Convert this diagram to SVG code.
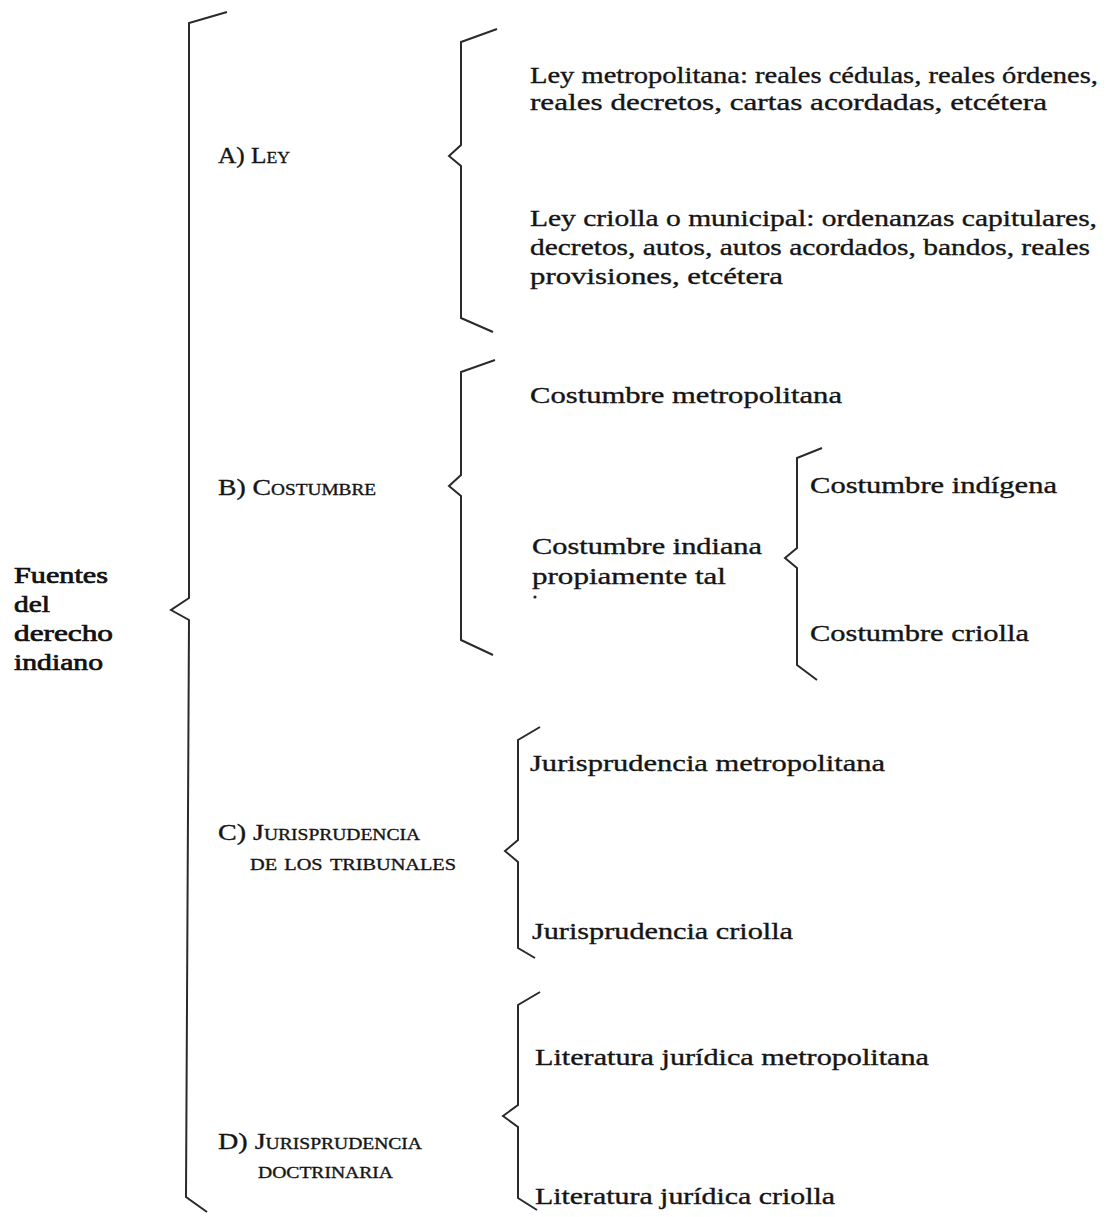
<svg xmlns="http://www.w3.org/2000/svg" width="1110" height="1217" viewBox="0 0 1110 1217">
<style>
.t{font-family:"Liberation Serif","DejaVu Serif",serif;font-size:23px;fill:#151515;stroke:#151515;stroke-width:0.35}
.h{font-family:"Liberation Serif","DejaVu Serif",serif;font-size:23px;fill:#111;stroke:#111;stroke-width:0.7}
.sc{font-variant:small-caps}
.br{fill:none;stroke:#2a2a2a;stroke-width:2;stroke-linejoin:miter}
</style>
<rect width="1110" height="1217" fill="#fff"/>
<g id="connectors">
<path id="brace-main" class="br" d="M227,12 L189,23 L189,598 L171,610 L189,620 L186,1197 L207,1212"/>
<path id="brace-a" class="br" d="M497,29 L461,42 L461,145 L449,156 L461,166 L461,318 L493,332"/>
<path id="brace-b" class="br" d="M495,360 L461,372 L461,475 L449,486 L461,496 L461,640 L493,655"/>
<path id="brace-bi" class="br" d="M822,448 L797,458 L797,548 L785,558 L797,568 L797,665 L817,680"/>
<path id="brace-c" class="br" d="M540,727 L518,740 L518,840 L505,851 L518,862 L518,948 L535,958"/>
<path id="brace-d" class="br" d="M540,992 L518,1005 L518,1105 L503,1116 L518,1127 L518,1198 L537,1210"/>
</g>
<g id="root">
<text class="h" x="14" y="583" textLength="94" lengthAdjust="spacingAndGlyphs">Fuentes</text>
<text class="h" x="14" y="612" textLength="36" lengthAdjust="spacingAndGlyphs">del</text>
<text class="h" x="14" y="641" textLength="99" lengthAdjust="spacingAndGlyphs">derecho</text>
<text class="h" x="14" y="670" textLength="89" lengthAdjust="spacingAndGlyphs">indiano</text>
</g>
<g id="node-a">
<text class="t sc" x="218" y="163" textLength="72" lengthAdjust="spacingAndGlyphs">A) Ley</text>
</g>
<g id="node-a1">
<text class="t" x="530" y="83" textLength="568" lengthAdjust="spacingAndGlyphs">Ley metropolitana: reales cédulas, reales órdenes,</text>
<text class="t" x="530" y="110" textLength="517" lengthAdjust="spacingAndGlyphs">reales decretos, cartas acordadas, etcétera</text>
</g>
<g id="node-a2">
<text class="t" x="530" y="226" textLength="567" lengthAdjust="spacingAndGlyphs">Ley criolla o municipal: ordenanzas capitulares,</text>
<text class="t" x="530" y="255" textLength="560" lengthAdjust="spacingAndGlyphs">decretos, autos, autos acordados, bandos, reales</text>
<text class="t" x="530" y="284" textLength="253" lengthAdjust="spacingAndGlyphs">provisiones, etcétera</text>
</g>
<g id="node-b">
<text class="t sc" x="218" y="495" textLength="158" lengthAdjust="spacingAndGlyphs">B) Costumbre</text>
</g>
<g id="node-b1">
<text class="t" x="530" y="403" textLength="312" lengthAdjust="spacingAndGlyphs">Costumbre metropolitana</text>
</g>
<g id="node-b2">
<text class="t" x="532" y="554" textLength="230" lengthAdjust="spacingAndGlyphs">Costumbre indiana</text>
<text class="t" x="532" y="584" textLength="194" lengthAdjust="spacingAndGlyphs">propiamente tal</text>
<circle cx="535" cy="597" r="1.6" fill="#222"/>
</g>
<g id="node-b21">
<text class="t" x="810" y="493" textLength="247" lengthAdjust="spacingAndGlyphs">Costumbre indígena</text>
</g>
<g id="node-b22">
<text class="t" x="810" y="641" textLength="219" lengthAdjust="spacingAndGlyphs">Costumbre criolla</text>
</g>
<g id="node-c">
<text class="t sc" x="218" y="840" textLength="202" lengthAdjust="spacingAndGlyphs">C) Jurisprudencia</text>
<text class="t sc" x="250" y="870" textLength="206" lengthAdjust="spacingAndGlyphs">de los tribunales</text>
</g>
<g id="node-c1">
<text class="t" x="530" y="771" textLength="355" lengthAdjust="spacingAndGlyphs">Jurisprudencia metropolitana</text>
</g>
<g id="node-c2">
<text class="t" x="532" y="939" textLength="261" lengthAdjust="spacingAndGlyphs">Jurisprudencia criolla</text>
</g>
<g id="node-d">
<text class="t sc" x="218" y="1149" textLength="204" lengthAdjust="spacingAndGlyphs">D) Jurisprudencia</text>
<text class="t sc" x="258" y="1178" textLength="135" lengthAdjust="spacingAndGlyphs">doctrinaria</text>
</g>
<g id="node-d1">
<text class="t" x="535" y="1065" textLength="394" lengthAdjust="spacingAndGlyphs">Literatura jurídica metropolitana</text>
</g>
<g id="node-d2">
<text class="t" x="535" y="1204" textLength="300" lengthAdjust="spacingAndGlyphs">Literatura jurídica criolla</text>
</g>
</svg>
